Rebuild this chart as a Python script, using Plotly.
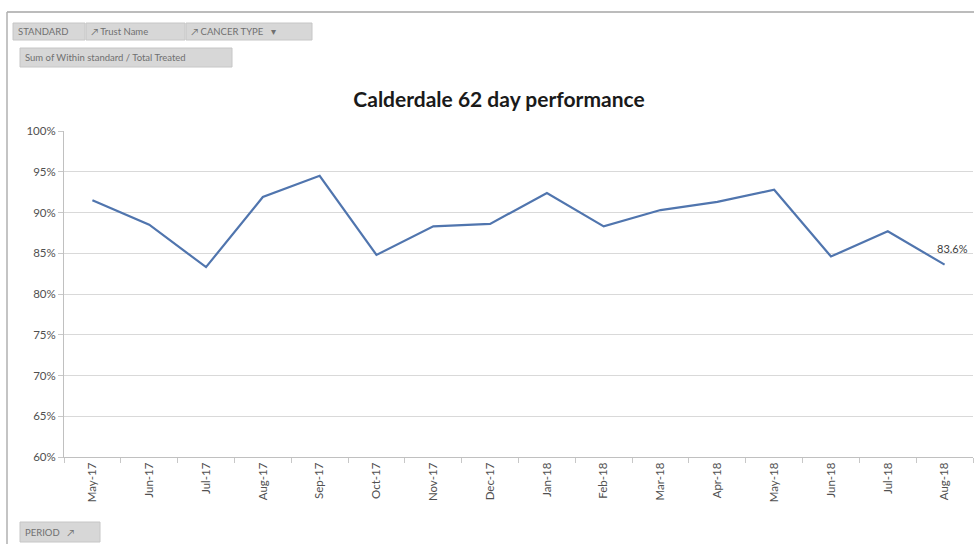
import plotly.graph_objects as go

# Monthly share of patients treated within the 62-day standard
periods = ["May-17", "Jun-17", "Jul-17", "Aug-17", "Sep-17", "Oct-17", "Nov-17", "Dec-17",
           "Jan-18", "Feb-18", "Mar-18", "Apr-18", "May-18", "Jun-18", "Jul-18", "Aug-18"]
performance = [0.915, 0.885, 0.833, 0.919, 0.945, 0.848, 0.883, 0.886,
               0.924, 0.883, 0.903, 0.913, 0.928, 0.846, 0.877, 0.836]
y_ticks = [0.60, 0.65, 0.70, 0.75, 0.80, 0.85, 0.90, 0.95, 1.00]

W, H = 978, 544
L, R, T, B = 64, 5, 131, 87
PW, PH = W - L - R, H - T - B


def px(x):
    return (x - L) / PW


def py(y):
    return (H - B - y) / PH


FONT = "Lato, 'Open Sans', sans-serif"

fig = go.Figure()
fig.add_trace(go.Scatter(
    x=periods, y=performance, mode="lines",
    line=dict(color="#5075AE", width=2.2),
    hoverinfo="skip", showlegend=False,
))

# value label on the latest month
fig.add_annotation(
    x=periods[-1], y=performance[-1], xref="x", yref="y",
    text=f"{performance[-1] * 100:.1f}%", showarrow=False,
    xshift=8, yshift=16, font=dict(family=FONT, size=11, color="#404040"),
)

# pivot-chart field buttons
buttons = [
    ("STANDARD", 13, 85, 23, 40),
    ("↗ Trust Name", 86, 185, 23, 40),
    ("↗ CANCER TYPE   ▾", 186, 312, 23, 40),
    ("Sum of Within standard / Total Treated", 20, 232, 48, 67),
    ("PERIOD   ↗", 20, 100, 522, 542),
]
for label, x0, x1, y0, y1 in buttons:
    fig.add_shape(type="rect", xref="paper", yref="paper",
                  x0=px(x0), x1=px(x1), y0=py(y1), y1=py(y0),
                  fillcolor="#d7d7d7", line=dict(color="#c6c6c6", width=1), layer="above")
    fig.add_annotation(
        x=px(x0 + 3), y=py((y0 + y1) / 2), xref="paper", yref="paper",
        xanchor="left", yanchor="middle", text=label, showarrow=False,
        font=dict(family=FONT, size=9.5, color="#707070"),
    )

# chart-area frame (top and left edges)
fig.add_shape(type="line", xref="paper", yref="paper",
              x0=px(7), x1=px(W - 4), y0=py(12), y1=py(12),
              line=dict(color="#a6a6a6", width=1.5))
fig.add_shape(type="line", xref="paper", yref="paper",
              x0=px(7), x1=px(7), y0=py(12), y1=py(H),
              line=dict(color="#b0b0b0", width=1.5))

fig.update_layout(
    width=W, height=H,
    margin=dict(l=L, r=R, t=T, b=B),
    paper_bgcolor="white", plot_bgcolor="white",
    title=dict(text="<b>Calderdale 62 day performance</b>",
               x=px(499), xref="paper", xanchor="center",
               y=1 - 100 / H, yref="container", yanchor="middle",
               font=dict(family=FONT, size=21, color="#1a1a1a")),
    xaxis=dict(
        type="category", range=[-0.5, len(periods) - 0.5],
        tickangle=-90, tickson="boundaries", ticks="outside", ticklen=5,
        tickcolor="#c8c8c8", showline=True, linecolor="#c0c0c0", linewidth=1,
        showgrid=False, tickfont=dict(family=FONT, size=11.5, color="#505050"),
    ),
    yaxis=dict(
        range=[0.60, 1.00], tickvals=y_ticks, tickformat=".0%",
        ticks="outside", ticklen=5, tickcolor="#c8c8c8",
        showline=True, linecolor="#c0c0c0", linewidth=1,
        showgrid=True, gridcolor="#d9d9d9", gridwidth=1, zeroline=False,
        tickfont=dict(family=FONT, size=11.5, color="#505050"),
    ),
)

fig.write_html("out.html")
